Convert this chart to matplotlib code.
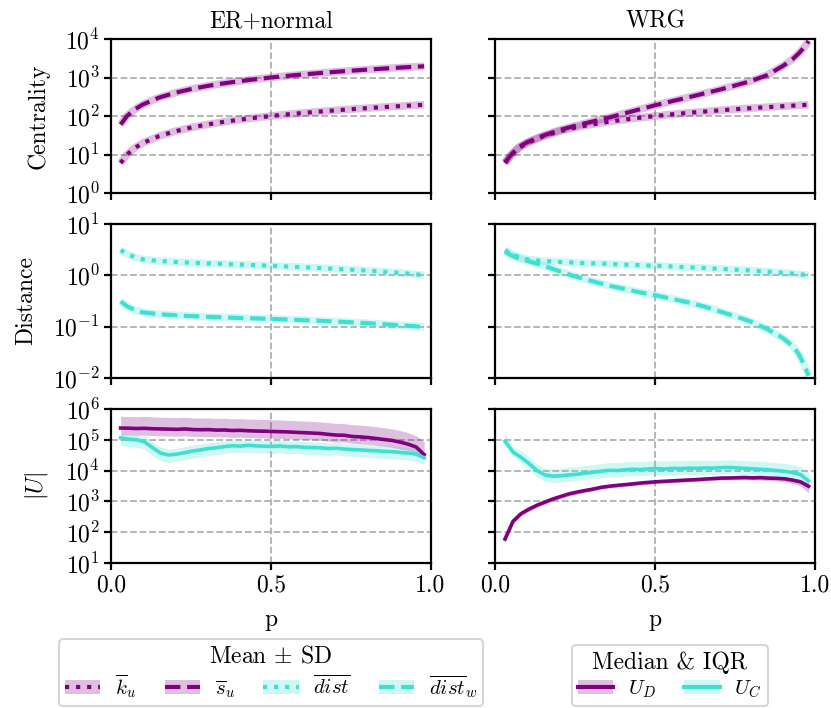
import numpy as np
import matplotlib
matplotlib.use("Agg")
import matplotlib.pyplot as plt
from matplotlib.patches import Patch
from matplotlib.lines import Line2D
from matplotlib.legend_handler import HandlerTuple
from matplotlib.ticker import NullLocator

plt.rcParams['font.family'] = ['cmr10', 'DejaVu Serif']
plt.rcParams['mathtext.fontset'] = 'cm'
plt.rcParams['axes.formatter.use_mathtext'] = True
plt.rcParams['font.size'] = 16

# ---------------- data ----------------
p_smooth = [0.03, 0.05, 0.075, 0.1, 0.15, 0.2, 0.25, 0.3, 0.35, 0.4, 0.45, 0.5,
            0.55, 0.6, 0.65, 0.7, 0.75, 0.8, 0.85, 0.9, 0.93, 0.95, 0.97, 0.98]

# Centrality
k_u_er = [6, 10, 15, 20, 30, 40, 50, 60, 70, 80, 90, 100, 110, 120, 130, 140,
          150, 160, 170, 180, 186, 190, 194, 196]
s_u_er = [60, 100, 150, 200, 300, 400, 500, 600, 700, 800, 900, 1000, 1100, 1200,
          1300, 1400, 1500, 1600, 1700, 1800, 1860, 1900, 1940, 1960]
k_u_wrg = [6, 10, 15, 20, 30, 40, 50, 60, 70, 80, 90, 100, 110, 120, 130, 140,
           150, 160, 170, 180, 186, 190, 194, 196]
s_u_wrg = [6.3, 10, 16, 21, 31, 43, 56, 71, 89, 115, 148, 190, 240, 300, 380, 480,
           620, 810, 1150, 2000, 3000, 4300, 6600, 8900]

# Distance
dist_er = [3.1, 2.6, 2.25, 2.05, 1.9, 1.82, 1.76, 1.71, 1.67, 1.62, 1.58, 1.54,
           1.49, 1.44, 1.39, 1.34, 1.29, 1.24, 1.18, 1.12, 1.08, 1.05, 1.02, 1.0]
dist_w_er = [0.31, 0.25, 0.21, 0.19, 0.175, 0.167, 0.161, 0.156, 0.152, 0.148, 0.145,
             0.142, 0.138, 0.134, 0.13, 0.126, 0.122, 0.117, 0.112, 0.107, 0.104,
             0.102, 0.1, 0.099]
dist_wrg = [3.1, 2.6, 2.25, 2.05, 1.9, 1.82, 1.76, 1.71, 1.67, 1.62, 1.58, 1.54,
            1.49, 1.44, 1.39, 1.34, 1.29, 1.24, 1.18, 1.12, 1.08, 1.05, 1.02, 1.0]
dist_w_wrg = [2.9, 2.45, 2.1, 1.9, 1.55, 1.2, 0.95, 0.78, 0.64, 0.55, 0.47, 0.41,
              0.35, 0.3, 0.25, 0.2, 0.16, 0.125, 0.09, 0.06, 0.042, 0.029, 0.016, 0.011]

# |U| (median and IQR)
p_u = [0.03, 0.055, 0.08, 0.105, 0.13, 0.155, 0.18, 0.205, 0.23, 0.255, 0.28, 0.305,
       0.33, 0.355, 0.38, 0.405, 0.43, 0.455, 0.48, 0.505, 0.53, 0.555, 0.58, 0.605,
       0.63, 0.655, 0.68, 0.705, 0.73, 0.755, 0.78, 0.805, 0.83, 0.855, 0.88, 0.905,
       0.93, 0.955, 0.98]

ud_er_med = [240, 238, 232, 236, 228, 225, 222, 218, 225, 215, 212, 214, 206, 208, 200,
             203, 196, 192, 190, 186, 183, 180, 174, 170, 165, 160, 150, 142, 140, 128,
             124, 118, 110, 102, 95, 84, 72, 58, 33]
ud_er_hi = [580, 570, 560, 575, 555, 540, 530, 525, 540, 515, 505, 510, 495, 500, 480,
            485, 470, 460, 455, 445, 440, 430, 415, 405, 395, 380, 360, 340, 335, 310,
            300, 285, 265, 245, 225, 200, 170, 135, 85]
ud_er_lo = [144, 143, 139, 142, 137, 135, 133, 131, 135, 129, 127, 128, 124, 125, 120,
            122, 118, 115, 114, 112, 110, 108, 104, 102, 99, 96, 90, 85, 84, 77, 74, 71,
            66, 61, 57, 50, 45, 38, 24]
uc_er_med = [116, 105, 100, 85, 55, 37, 32, 34, 38, 43, 47, 52, 55, 60, 64, 62, 66, 63,
             62, 61, 63, 59, 60, 57, 56, 55, 52, 53, 50, 48, 47, 45, 44, 42, 41, 39, 37,
             34, 26]
uc_er_hi = [160, 150, 140, 125, 85, 58, 50, 53, 60, 67, 73, 80, 85, 92, 98, 95, 100, 97,
            95, 94, 97, 91, 92, 88, 86, 85, 80, 82, 77, 74, 72, 70, 68, 65, 63, 60, 57,
            52, 42]
uc_er_lo = [65, 60, 57, 50, 30, 21, 18, 20, 22, 25, 28, 31, 33, 36, 38, 37, 39, 37, 37,
            36, 37, 35, 36, 34, 33, 33, 31, 32, 30, 29, 28, 27, 26, 25, 24, 23, 22, 20, 16]

ud_wrg_med = [0.06, 0.225, 0.4, 0.56, 0.75, 0.95, 1.2, 1.45, 1.75, 2.0, 2.25, 2.5, 2.85,
              3.1, 3.3, 3.5, 3.7, 3.95, 4.15, 4.35, 4.5, 4.65, 4.8, 4.95, 5.1, 5.3, 5.5,
              5.7, 5.75, 5.85, 5.95, 5.8, 5.9, 5.7, 5.6, 5.4, 4.9, 4.3, 3.1]
ud_wrg_hi = [0.07, 0.26, 0.46, 0.65, 0.87, 1.1, 1.38, 1.67, 2.0, 2.3, 2.58, 2.88, 3.3,
             3.55, 3.8, 4.0, 4.25, 4.5, 4.75, 4.95, 5.15, 5.3, 5.5, 5.65, 5.8, 6.05,
             6.3, 6.55, 6.6, 6.7, 6.85, 6.65, 6.8, 6.6, 6.5, 6.3, 5.8, 5.1, 3.9]
ud_wrg_lo = [0.045, 0.185, 0.34, 0.47, 0.64, 0.81, 1.03, 1.25, 1.5, 1.72, 1.95, 2.17,
             2.47, 2.68, 2.86, 3.03, 3.2, 3.42, 3.6, 3.77, 3.9, 4.02, 4.15, 4.28, 4.4,
             4.57, 4.74, 4.9, 4.92, 5.0, 5.05, 4.9, 4.9, 4.7, 4.55, 4.3, 3.8, 3.2, 1.9]
uc_wrg_med = [90, 40, 27, 17, 10, 7.2, 6.6, 6.8, 7.2, 7.6, 8.2, 8.8, 9.5, 10.2, 10, 10.6,
              11, 10.8, 11.4, 11.6, 11.2, 11.8, 11.6, 12, 11.8, 12.2, 12, 12.4, 12.6,
              12.2, 11.8, 11.4, 11, 10.6, 10, 9.4, 8.6, 7.4, 4.6]
uc_wrg_hi = [150, 60, 42, 28, 16, 12, 11.5, 12, 13, 13.5, 14.5, 15.5, 17, 18, 18, 19, 20,
             19.5, 20.5, 21, 20, 21, 21, 21.5, 21, 22, 21.5, 22, 22.5, 22, 21, 20.5, 20,
             19, 18, 17, 15.5, 13.5, 9]
uc_wrg_lo = [70, 28, 18, 11, 6.3, 4.4, 4.1, 4.2, 4.5, 4.8, 5.1, 5.5, 5.9, 6.3, 6.2, 6.6,
             6.8, 6.7, 7.1, 7.2, 7.0, 7.3, 7.2, 7.4, 7.3, 7.6, 7.4, 7.7, 7.8, 7.6, 7.3,
             7.1, 6.8, 6.6, 6.2, 5.8, 5.3, 4.6, 3.0]

col_titles = ["ER+normal", "WRG"]
row_labels = ["Centrality", "Distance", r"$|U|$"]
row_ylims = [(1e0, 1e4), (1e-2, 1e1), (1e1, 1e6)]

PURPLE = "purple"
TURQ = "turquoise"
BAND_ALPHA = 0.25

FS_TICK = 17
FS_LABEL = 17
FS_LEG = 15

# ---------------- figure ----------------
fig = plt.figure(figsize=(8.31, 7.08), dpi=100)
axes = fig.subplots(3, 2, sharex=True, sharey='row')
fig.subplots_adjust(left=0.1336, right=0.9807, top=0.9449, bottom=0.2048,
                    wspace=0.203, hspace=0.201)

ps = np.array(p_smooth)
pu = np.array(p_u)


def mean_line(ax, y, color, ls):
    ax.plot(ps, y, color=color, lw=5.5, alpha=BAND_ALPHA, solid_capstyle='butt', zorder=2)
    ax.plot(ps, y, color=color, lw=3, ls=ls, zorder=3)


def med_line(ax, med, lo, hi, color, scale):
    ax.fill_between(pu, np.array(lo) * scale, np.array(hi) * scale, color=color,
                    alpha=BAND_ALPHA, lw=0, zorder=2)
    ax.plot(pu, np.array(med) * scale, color=color, lw=2.6, zorder=3)


# row 1
mean_line(axes[0, 0], k_u_er, PURPLE, ':')
mean_line(axes[0, 0], s_u_er, PURPLE, '--')
mean_line(axes[0, 1], k_u_wrg, PURPLE, ':')
mean_line(axes[0, 1], s_u_wrg, PURPLE, '--')
# row 2
mean_line(axes[1, 0], dist_er, TURQ, ':')
mean_line(axes[1, 0], dist_w_er, TURQ, '--')
mean_line(axes[1, 1], dist_wrg, TURQ, ':')
mean_line(axes[1, 1], dist_w_wrg, TURQ, '--')
# row 3
med_line(axes[2, 0], ud_er_med, ud_er_lo, ud_er_hi, PURPLE, 1e3)
med_line(axes[2, 0], uc_er_med, uc_er_lo, uc_er_hi, TURQ, 1e3)
med_line(axes[2, 1], ud_wrg_med, ud_wrg_lo, ud_wrg_hi, PURPLE, 1e3)
med_line(axes[2, 1], uc_wrg_med, uc_wrg_lo, uc_wrg_hi, TURQ, 1e3)

for r in range(3):
    for c in range(2):
        ax = axes[r, c]
        ax.set_yscale('log')
        ax.set_ylim(*row_ylims[r])
        lo, hi = row_ylims[r]
        ax.set_yticks(10.0 ** np.arange(np.log10(lo), np.log10(hi) + 0.5))
        ax.yaxis.set_minor_locator(NullLocator())
        ax.set_xlim(0, 1)
        ax.set_xticks([0.0, 0.5, 1.0])
        ax.grid(True, ls='--', color='#b0b0b0', lw=1.3)
        ax.set_axisbelow(True)
        for s in ax.spines.values():
            s.set_linewidth(1.6)
        ax.tick_params(axis='both', which='major', length=5, width=1.6,
                       labelsize=FS_TICK, pad=3)
        if c == 0:
            ax.set_ylabel(row_labels[r], fontsize=FS_LABEL, labelpad=11)
        if r == 0:
            ax.set_title(col_titles[c], fontsize=FS_LABEL, pad=8)
        if r == 2:
            ax.set_xticklabels(["0.0", "0.5", "1.0"])
            ax.set_xlabel("p", fontsize=FS_LABEL, labelpad=9)

# ---------------- legends ----------------
def h(color, ls):
    return (Patch(facecolor=color, alpha=BAND_ALPHA, edgecolor='none'),
            Line2D([], [], color=color, ls=ls, lw=3))

common = dict(handler_map={tuple: HandlerTuple(ndivide=1, pad=0)},
              loc='lower center', title_fontsize=FS_LABEL, fontsize=FS_LEG,
              handlelength=1.7, columnspacing=1.35, handletextpad=0.7,
              borderaxespad=0.1, borderpad=0.3, labelspacing=0.2, frameon=True)

leg1 = fig.legend([h(PURPLE, ':'), h(PURPLE, '--'), h(TURQ, ':'), h(TURQ, '--')],
                  [r"$\overline{k}_u$", r"$\overline{s}_u$", r"$\overline{dist}$",
                   r"$\overline{dist}_w$"],
                  bbox_to_anchor=(0.326, 0.0), ncol=4,
                  title=r"Mean $\pm$ SD", **common)
leg1.get_frame().set_linewidth(1.5)
leg2 = fig.legend([h(PURPLE, '-'), h(TURQ, '-')],
                  [r"$U_D$", r"$U_C$"],
                  bbox_to_anchor=(0.806, 0.0), ncol=2,
                  title=r"Median & IQR", **common)
leg2.get_frame().set_linewidth(1.5)

fig.savefig("out.png", dpi=100)
